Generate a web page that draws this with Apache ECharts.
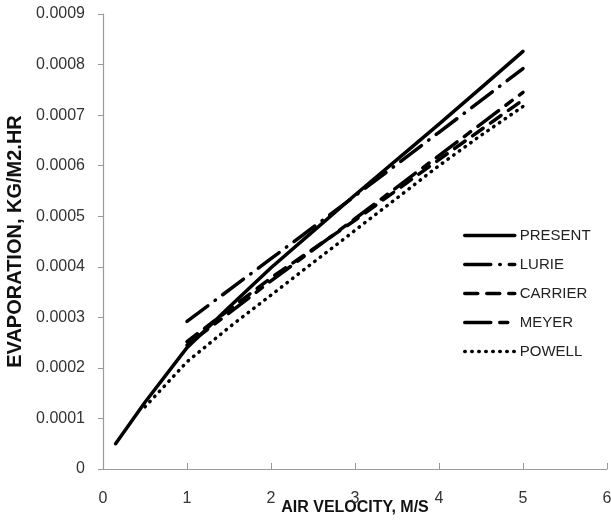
<!DOCTYPE html>
<html>
<head>
<meta charset="utf-8">
<script src="https://cdn.jsdelivr.net/npm/echarts@6/dist/echarts.min.js"></script>
<style>
html, body { margin: 0; padding: 0; background: #fff; }
#main { width: 611px; height: 525px; }
</style>
</head>
<body>
<div id="main"></div>
<script>
// 数据（从图上读取，单位 kg/m2.hr）
var xPresent = [0.15, 0.5, 1, 1.5, 2, 2.5, 3, 3.5, 4, 4.5, 5];
var present = [0.00005, 0.000132, 0.00024, 0.00032, 0.000398, 0.00047, 0.000542, 0.000612, 0.000682, 0.000754, 0.000826];
var xLurie = [1, 2, 3, 4, 5];
var lurie = [0.000292, 0.000416, 0.00054, 0.000666, 0.000792];
var xCarrier = [1, 2, 3, 4, 5];
var carrier = [0.000252, 0.000378, 0.000492, 0.000612, 0.00073];
var xMeyer = [1, 2, 3, 4, 5];
var meyer = [0.000245, 0.000372, 0.000495, 0.00062, 0.000745];
var xPowell = [0.5, 1, 1.5, 2, 2.5, 3, 3.5, 4, 4.5, 5];
var powell = [0.000123, 0.000212, 0.00028, 0.000344, 0.000408, 0.000472, 0.000536, 0.0006, 0.00066, 0.000717];
var names = ['PRESENT', 'LURIE', 'CARRIER', 'MEYER', 'POWELL'];

var FONT = "'Liberation Sans', Arial, sans-serif";

function pairs(xs, ys) {
	var out = [];
	for (var i = 0; i < xs.length; i++) {
		out.push([xs[i], ys[i]]);
	}
	return out;
}

function makeSeries(name, xs, ys, dash) {
	return {
		name : name,
		type : 'line',
		data : pairs(xs, ys),
		symbol : 'none',
		smooth : false,
		lineStyle : {
			color : '#000',
			width : 3.5,
			type : dash,
			cap : 'round',
			join : 'round'
		},
		itemStyle : { color : '#000' }
	};
}

var option = {
	animation : false,
	grid : {
		left : 103,
		right : 4,
		top : 14,
		bottom : 56,
		containLabel : false,
		outerBoundsMode : 'none'
	},
	legend : {
		orient : 'vertical',
		left : 463,
		top : 228,
		padding : 0,
		itemWidth : 50,
		itemHeight : 14,
		itemGap : 14,
		data : names,
		lineStyle : { width : 3.5 },
		itemStyle : { opacity : 0 },// 隐藏图例中的圆点
		textStyle : {
			fontFamily : FONT,
			fontSize : 15,
			color : '#222'
		}
	},
	xAxis : {
		type : 'value',
		min : 0,
		max : 6,
		interval : 1,
		name : 'AIR VELOCITY, M/S',
		nameLocation : 'middle',
		nameGap : 31,
		nameMoveOverlap : false,
		nameTextStyle : {
			fontFamily : FONT,
			fontWeight : 'bold',
			fontSize : 16,
			color : '#111'
		},
		axisLine : { lineStyle : { color : '#9a9a9a', width : 1.2 } },
		axisTick : { inside : true, length : 6, lineStyle : { color : '#9a9a9a' } },
		splitLine : { show : false },
		axisLabel : {
			margin : 22,
			fontFamily : FONT,
			fontSize : 16,
			color : '#333'
		}
	},
	yAxis : {
		type : 'value',
		min : 0,
		max : 0.0009,
		interval : 0.0001,
		name : 'EVAPORATION, KG/M2.HR',
		nameLocation : 'middle',
		nameRotate : 90,
		nameGap : 78,
		nameMoveOverlap : false,
		nameTextStyle : {
			fontFamily : FONT,
			fontWeight : 'bold',
			fontSize : 20,
			color : '#111'
		},
		axisLine : { show : true, lineStyle : { color : '#9a9a9a', width : 1.2 } },
		axisTick : { show : true, length : 5, lineStyle : { color : '#9a9a9a' } },
		splitLine : { show : false },
		axisLabel : {
			margin : 18,
			fontFamily : FONT,
			fontSize : 16,
			color : '#333',
			formatter : function(v) {
				return v === 0 ? '0' : v.toFixed(4);
			}
		}
	},
	series : [
		makeSeries('PRESENT', xPresent, present, 'solid'),
		makeSeries('LURIE', xLurie, lurie, [26, 9, 0.5, 9]),
		makeSeries('CARRIER', xCarrier, carrier, [13, 9]),
		makeSeries('MEYER', xMeyer, meyer, [26, 9, 8, 9]),
		makeSeries('POWELL', xPowell, powell, [0.5, 6.5])
	]
};

var myChart = echarts.init(document.getElementById('main'));
myChart.setOption(option, true);
</script>
</body>
</html>
